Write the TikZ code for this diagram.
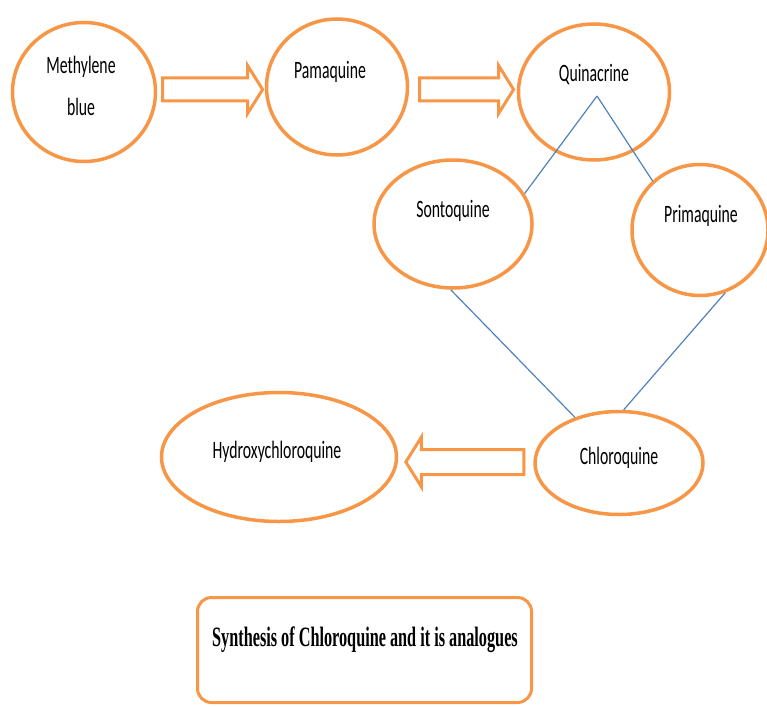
\documentclass[tikz,border=0pt]{standalone}
\usepackage{fontspec}
\setmainfont{Carlito}[FakeStretch=0.63]
\newfontfamily\titlefont{Liberation Serif}[FakeStretch=0.58]
\usepackage{xcolor}
\usepackage{tikz}
\usetikzlibrary{shapes.geometric, shapes.arrows, positioning, calc}
\definecolor{orng}{HTML}{F79646}
\definecolor{lnblue}{HTML}{4F81BD}

\begin{document}
\begin{tikzpicture}[x=1pt, y=-1pt,
    ring/.style={ellipse, draw=orng, line width=3.5pt, inner sep=0pt},
    blockarrow/.style={single arrow, draw=orng, line width=3pt, inner xsep=0pt, inner ysep=10pt,
      single arrow tip angle=116, single arrow head extend=12.5pt},
    link/.style={draw=lnblue, line width=1.2pt},
    drug/.style={font=\fontsize{25}{30}\selectfont, anchor=base, inner sep=0pt}]
  \useasboundingbox (0,0) rectangle (767,706);

  % compounds
  \node [ring, minimum width=143pt, minimum height=139pt] (methylene) at (84,92) {};
  \node [ring, minimum width=141pt, minimum height=136pt] (pamaquine) at (337,87) {};
  \node [ring, minimum width=151pt, minimum height=136pt] (quinacrine) at (594,92) {};
  \node [ring, minimum width=158pt, minimum height=128pt] (sontoquine) at (453,224) {};
  \node [ring, minimum width=136pt, minimum height=131pt] (primaquine) at (700,230) {};
  \node [ring, minimum width=235pt, minimum height=129pt] (hydroxy) at (279,457) {};
  \node [ring, minimum width=168pt, minimum height=103pt] (chloro) at (619,463) {};

  \node [drug] (methylene-t1) at (81,74) {Methylene};
  \node [drug] (methylene-t2) at (81,115) {blue};
  \node [drug] (pamaquine-t) at (330,79) {Pamaquine};
  \node [drug] (quinacrine-t) at (594,82) {Quinacrine};
  \node [drug] (sontoquine-t) at (453,217) {Sontoquine};
  \node [drug] (primaquine-t) at (701,222) {Primaquine};
  \node [drug] (hydroxy-t) at (277,458) {Hydroxychloroquine};
  \node [drug] (chloro-t) at (619,464) {Chloroquine};

  % block arrows
  \node [blockarrow, minimum height=100pt] (arrow1) at ($(methylene.east)!.5!(pamaquine.west)+(-2,0)$) {};
  \node [blockarrow, minimum height=94pt] (arrow2) at ($(pamaquine.east)!.5!(quinacrine.west)$) {};
  \node [blockarrow, minimum height=118pt, inner ysep=11pt, shape border rotate=180] (arrow3)
    at ($(hydroxy.east)!.5!(chloro.west)+(3,2)$) {};

  % thin links
  \coordinate (apex) at (597,96);
  \draw [link] (apex) -- (sontoquine.23);
  \draw [link] (apex) -- (primaquine.134);
  \draw [link] (sontoquine.268) -- (chloro.134);
  \draw [link] (primaquine.-68) -- (chloro.85);

  % caption box
  \node [draw=orng, line width=3pt, rounded corners=14pt, minimum width=334pt,
    minimum height=105pt, inner sep=0pt] (caption) at (364.5,650) {};
  \node [font=\titlefont\bfseries\fontsize{28}{30}\selectfont, anchor=base, inner sep=0pt]
    (caption-t) at (365,646) {Synthesis of Chloroquine and it is analogues};
\end{tikzpicture}
\end{document}
